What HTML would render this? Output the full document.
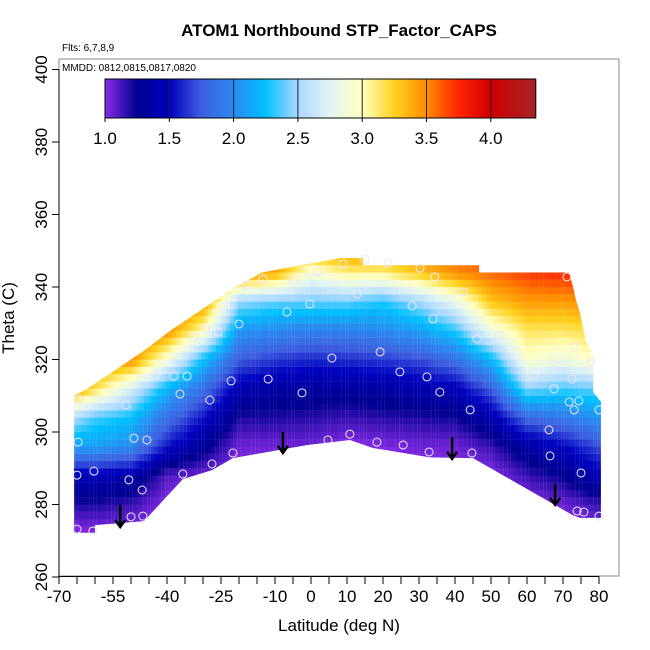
<!DOCTYPE html>
<html><head><meta charset="utf-8"><style>
body{margin:0;background:#fff;}
svg{display:block;font-family:"Liberation Sans",Arial,sans-serif;}
</style></head><body>
<svg id="chart" width="650" height="650" viewBox="0 0 650 650">
<text x="339" y="36" text-anchor="middle" font-size="17" font-weight="bold">ATOM1 Northbound STP_Factor_CAPS</text>
<text x="62" y="51" font-size="10">Flts: 6,7,8,9</text>
<g id="heat" clip-path="url(#clipData)"></g>
<g id="marks"></g>
<rect x="59" y="59" width="560" height="517" fill="none" stroke="#888" stroke-width="1"/>
<text x="62" y="71" font-size="10">MMDD: 0812,0815,0817,0820</text>
<g id="cbar"></g>
<g id="axes"></g>
<text x="339" y="631" text-anchor="middle" font-size="17">Latitude (deg N)</text>
<text transform="translate(14,318) rotate(-90)" text-anchor="middle" font-size="17">Theta (C)</text>
</svg>
<script>
const gridLats=[-68,-60,-50,-40,-30,-20,-10,0,10,20,30,40,50,60,70,80];
const gridThetas=[272,280,288,296,304,312,320,328,336,344,352];
const row272=[1.0,1.0,1.0,1.0,1.0,1.0,1.0,1.0,1.0,1.0,1.0,1.0,1.0,1.0,1.0,1.0];
const row280=[1.2,1.2,1.15,1.0,1.0,1.0,1.0,1.0,1.0,1.0,1.0,1.0,1.0,1.0,1.05,1.15];
const row288=[1.4,1.45,1.4,1.1,1.05,1.0,1.0,1.0,1.0,1.0,1.0,1.0,1.0,1.15,1.25,1.45];
const row296=[2.1,2.1,2.0,1.55,1.3,1.05,1.05,1.05,1.0,1.02,1.05,1.05,1.15,1.35,1.5,1.7];
const row304=[2.6,2.35,2.25,1.85,1.55,1.2,1.2,1.18,1.15,1.18,1.2,1.22,1.4,1.8,1.9,2.05];
const row312=[3.6,3.2,2.7,2.2,1.85,1.42,1.35,1.33,1.33,1.35,1.4,1.45,1.75,2.45,2.35,2.4];
const row320=[3.6,3.5,3.5,2.9,2.25,1.75,1.65,1.6,1.62,1.65,1.7,1.85,2.2,2.95,2.85,3.0];
const row328=[3.6,3.6,3.6,3.5,3.0,2.05,2.0,1.95,1.95,2.0,2.1,2.3,2.85,3.15,3.15,3.2];
const row336=[3.6,3.6,3.6,3.6,3.5,2.5,2.4,2.4,2.4,2.3,2.5,2.8,3.3,3.45,3.45,3.5];
const row344=[3.6,3.6,3.6,3.6,3.6,3.5,3.4,2.9,3.1,3.1,3.3,3.5,3.6,3.7,3.75,3.75];
const row352=[3.6,3.6,3.6,3.6,3.6,3.6,3.6,3.5,3.6,3.6,3.6,3.6,3.7,3.8,3.8,3.8];
const valueRows=[row272,row280,row288,row296,row304,row312,row320,row328,row336,row344,row352];
const topLat=[-65.8,-62,-59,-53,-47,-39,-33,-27,-21,-13.6,-3,8.3,14.5,14.5,46.7,46.7,71.7,72.8,73.6,74.7,75.5,76.4,78.4,78.4,80.8];
const topTheta=[310,312,314,318,322,328,332,336,340,344,346,348,348,346,346,344,344,340,336.4,333,329,325,321,311,308];
const botLat=[80.8,74.7,72.8,45,33,17.2,10.8,-1,-21.7,-27.5,-35.6,-46.4,-60,-60,-65.8];
const botTheta=[276.3,276.3,277,292.8,293,295.6,297.8,296.4,292.8,289.5,287,275.4,274.3,272.2,272.2];
const ptLat=[8.9,1.9,-13.3,-5.0,-18.1,-24.4,-0.3,-6.7,-20.0,-29.4,-25.8,-32.5,5.8,-43.3,-38.1,-34.4,-22.2,-11.9,-2.5,-36.4,-28.1,-51.4,-64.4,10.8,4.7,-49.2,-45.6,-64.7,-21.7,-27.5,-35.6,-60.3,-65.0,-50.6,-46.9,-50.0,-46.7,-65.0,-60.6,15.0,21.4,30.3,34.4,71.1,12.8,42.2,28.1,33.9,46.1,52.2,73.1,77.8,68.6,19.2,61.9,72.5,24.7,32.2,35.8,67.5,71.7,74.4,73.1,80.0,44.2,66.1,18.3,25.6,32.8,44.7,66.4,75.0,73.9,75.8,80.0];
const ptTheta=[346.3,344.4,342.2,341.7,340.6,335.0,335.3,333.1,329.8,328.4,327.6,326.2,320.4,315.7,315.4,315.4,314.1,314.6,310.8,310.5,308.8,307.4,309.1,299.4,297.8,298.3,297.8,297.2,294.2,291.2,288.4,289.2,288.1,286.8,284.0,276.6,276.8,273.2,272.7,347.7,346.6,345.2,342.8,342.8,338.1,338.6,334.8,331.2,325.7,326.8,323.4,319.3,318.2,322.1,316.0,314.6,316.6,315.2,311.0,311.9,308.3,308.6,306.1,306.1,306.1,300.6,297.2,296.4,294.5,294.2,293.4,288.7,278.2,277.9,276.8];
const arrowLat=[-53,-7.8,39.2,67.8];
const arrowTop=[279.9,300,298.6,285.7];
const arrowBot=[273.8,294.2,292.6,279.9];
const cbStops=[1.0,1.25,1.5,1.75,2.0,2.25,2.5,2.75,3.0,3.25,3.5,3.75,4.0,4.35];
const cbColors=["#8a2be8","#00008f","#0000c0","#3f5fe0","#2a8af0","#00c0ff","#aad8ff","#e2f4f2","#ffffc0","#ffd21e","#ff8c00","#ff2400","#d00000","#a52525"];
const cbTicks=[1.0,1.5,2.0,2.5,3.0,3.5,4.0];
const xTicks=[-70,-55,-40,-25,-10,0,10,20,30,40,50,60,70,80];
const yTicks=[260,280,300,320,340,360,380,400];

const NS="http://www.w3.org/2000/svg";
const X=lat=>59+(lat+70)*3.6;
const Y=th=>577-(th-260)*3.625;
const CBX=v=>105+(v-1)*128.6;
function mk(tag,attrs,parent){const e=document.createElementNS(NS,tag);for(const k in attrs)e.setAttribute(k,attrs[k]);parent.appendChild(e);return e;}
function hex(c){return [1,3,5].map(i=>parseInt(c.substr(i,2),16));}
function colorOf(v){
  if(v<=cbStops[0])return cbColors[0];
  for(let i=1;i<cbStops.length;i++){if(v<=cbStops[i]){const t=(v-cbStops[i-1])/(cbStops[i]-cbStops[i-1]);const a=hex(cbColors[i-1]),b=hex(cbColors[i]);return "rgb("+a.map((x,k)=>Math.round(x+(b[k]-x)*t)).join(",")+")";}}
  return cbColors[cbColors.length-1];
}
function idx(arr,v){let i=0;while(i<arr.length-2&&v>arr[i+1])i++;let t=(v-arr[i])/(arr[i+1]-arr[i]);return [i,Math.max(0,Math.min(1,t))];}
function valueAt(lat,th){
  const [i,ti]=idx(gridLats,lat),[j,tj]=idx(gridThetas,th);
  const a=valueRows[j][i],b=valueRows[j][i+1],c=valueRows[j+1][i],d=valueRows[j+1][i+1];
  return (a*(1-ti)+b*ti)*(1-tj)+(c*(1-ti)+d*ti)*tj;
}
const svg=document.getElementById('chart');
const defs=mk('defs',{},svg);
const cp=mk('clipPath',{id:'clipData'},defs);
let pts=[];
topLat.forEach((l,i)=>pts.push(X(l)+","+Y(topTheta[i])));
botLat.forEach((l,i)=>pts.push(X(l)+","+Y(botTheta[i])));
mk('polygon',{points:pts.join(" ")},cp);
const heat=document.getElementById('heat');
for(let lat=-67;lat<81;lat+=1){
  for(let th=271;th<349;th+=2){
    const r=mk('rect',{x:X(lat-0.5),y:Y(th+1),width:3.7,height:7.4,fill:colorOf(valueAt(lat,th))},heat);
    
    
  }
}
const marks=document.getElementById('marks');
ptLat.forEach((l,i)=>{
  const c=mk('circle',{cx:X(l),cy:Y(ptTheta[i]),r:4,fill:'none',stroke:'#e8e8ff','stroke-width':1},marks);
  
  
});
arrowLat.forEach((l,i)=>{
  const g=mk('g',{},marks);
  
  
  const x=X(l),y1=Y(arrowTop[i]),y2=Y(arrowBot[i]);
  mk('line',{x1:x,y1:y1,x2:x,y2:y2,stroke:'#000','stroke-width':2.5},g);
  mk('polyline',{points:(x-5)+","+(y2-7)+" "+x+","+y2+" "+(x+5)+","+(y2-7),fill:'none',stroke:'#000','stroke-width':2.5},g);
});
const cb=document.getElementById('cbar');
const grad=mk('linearGradient',{id:'cbg',x1:0,x2:1,y1:0,y2:0},defs);
cbStops.forEach((s,i)=>mk('stop',{offset:((s-1)/(4.35-1)),'stop-color':cbColors[i]},grad));
const cbr=mk('rect',{x:105,y:79,width:CBX(4.35)-105,height:39,fill:'url(#cbg)',stroke:'#000','stroke-width':1},cb);


cbTicks.forEach(v=>{
  if(v>1) mk('line',{x1:CBX(v),y1:79,x2:CBX(v),y2:118,stroke:'#222','stroke-width':1},cb);
  mk('line',{x1:CBX(v),y1:118,x2:CBX(v),y2:122,stroke:'#000'},cb);
  const t=mk('text',{x:CBX(v),y:144,'text-anchor':'middle','font-size':17},cb);
  t.textContent=v.toFixed(1);
  
  
});
const ax=document.getElementById('axes');
mk('line',{x1:59,y1:576.5,x2:X(80),y2:576.5,stroke:'#000'},ax);
for(let l=-70;l<=80;l+=5) mk('line',{x1:X(l),y1:576.5,x2:X(l),y2:584,stroke:'#000'},ax);
xTicks.forEach(v=>{
  const t=mk('text',{x:X(v),y:602,'text-anchor':'middle','font-size':17},ax);
  t.textContent=v;
  
  
});
mk('line',{x1:59,y1:Y(260),x2:59,y2:Y(400),stroke:'#000'},ax);
yTicks.forEach(v=>{
  mk('line',{x1:52,y1:Y(v),x2:59,y2:Y(v),stroke:'#000'},ax);
  const t=mk('text',{transform:"translate(47,"+Y(v)+") rotate(-90)",'text-anchor':'middle','font-size':17},ax);
  t.textContent=v;
  
  
});
</script>
</body></html>
